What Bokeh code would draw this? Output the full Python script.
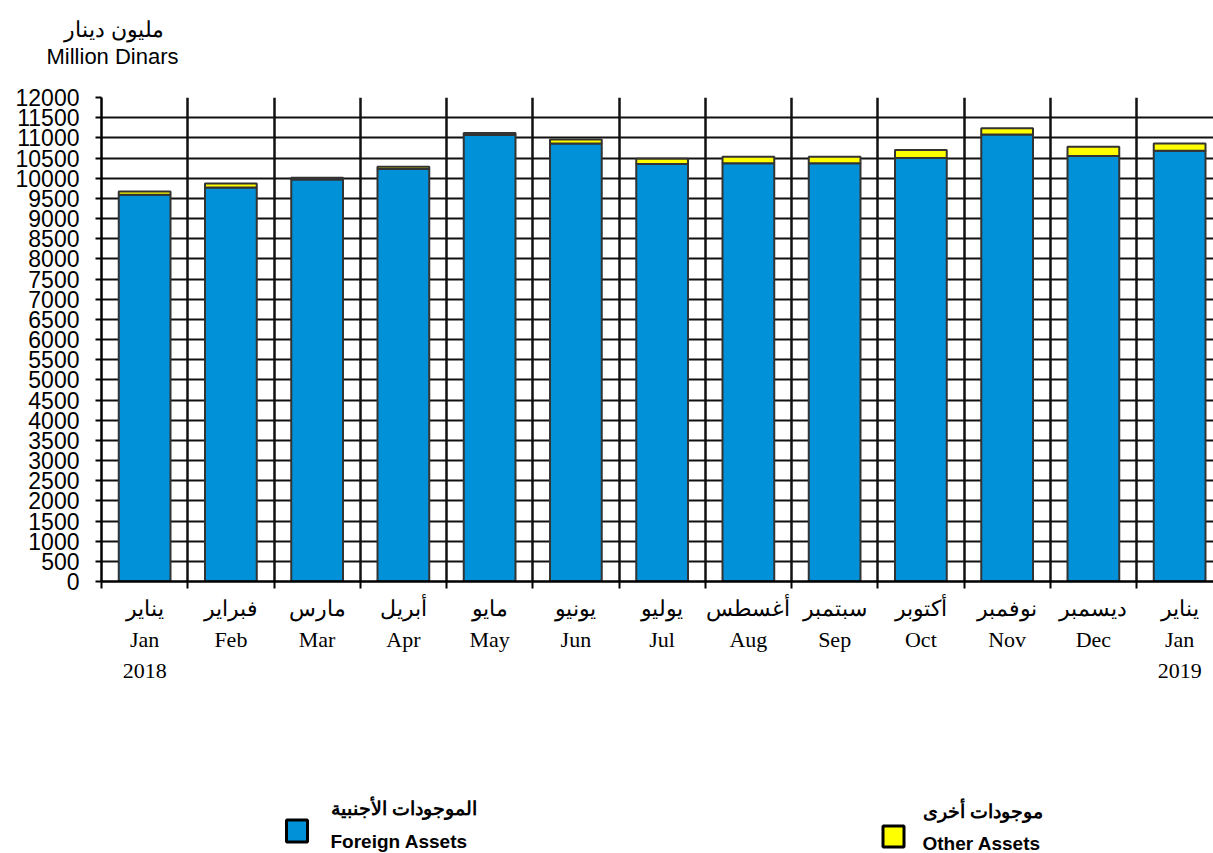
from bokeh.plotting import figure
from bokeh.models import ColumnDataSource, Range1d, FixedTicker, Title
from bokeh.layouts import column
from bokeh.core.properties import value
from bokeh.embed import file_html
from bokeh.resources import INLINE

months_ar = ["يناير", "فبراير", "مارس", "أبريل", "مايو", "يونيو", "يوليو",
             "أغسطس", "سبتمبر", "أكتوبر", "نوفمبر", "ديسمبر", "يناير"]
months_en = ["Jan", "Feb", "Mar", "Apr", "May", "Jun", "Jul", "Aug", "Sep",
             "Oct", "Nov", "Dec", "Jan"]
years = ["2018", "", "", "", "", "", "", "", "", "", "", "", "2019"]
foreign = [9590, 9770, 9970, 10230, 11070, 10860, 10350, 10370, 10370,
           10500, 11080, 10550, 10680]
other = [80, 100, 40, 50, 50, 100, 130, 160, 160, 200, 160, 230, 180]
y_ticks = list(range(0, 12001, 500))

BLUE = "#0091d9"
YELLOW = "#ffff00"
EDGE = "#333333"

# ---------- main chart ----------
n = len(months_en)
xs = [i + 0.5 for i in range(n)]
src = ColumnDataSource(dict(x=xs, foreign=foreign, other=other))

cat_px = 86.25
x_end = (1213 - 101) / cat_px
p = figure(width=1213, height=700, x_range=Range1d(0, x_end),
           y_range=Range1d(0, 12000),
           min_border_left=101, min_border_right=0, min_border_top=97,
           min_border_bottom=119, output_backend="svg", toolbar_location=None)
p.outline_line_color = None
p.background_fill_color = "white"

p.vbar_stack(["foreign", "other"], x="x", width=0.6, source=src,
             fill_color=[BLUE, YELLOW], line_color=EDGE, line_width=2)

# grids
p.xgrid.ticker = FixedTicker(ticks=list(range(n)))
p.xgrid.grid_line_color = "#111111"
p.xgrid.grid_line_width = 2.5
p.ygrid.ticker = FixedTicker(ticks=y_ticks)
p.ygrid.grid_line_color = "#111111"
p.ygrid.grid_line_width = 2

# x axis
labels = {}
for i in range(n):
    t = months_ar[i] + "\n" + months_en[i]
    if years[i]:
        t += "\n" + years[i]
    labels[xs[i]] = t
p.xaxis.ticker = FixedTicker(ticks=xs, minor_ticks=list(range(n + 1)))
p.xaxis.major_label_overrides = labels
p.xaxis.major_tick_in = 0
p.xaxis.major_tick_out = 0
p.xaxis.minor_tick_in = 0
p.xaxis.minor_tick_out = 7
p.xaxis.minor_tick_line_color = "#000000"
p.xaxis.minor_tick_line_width = 2
p.xaxis.axis_line_color = "#000000"
p.xaxis.axis_line_width = 2.5
p.xaxis.major_label_text_font = "Liberation Serif"
p.xaxis.major_label_text_font_size = "22px"
p.xaxis.major_label_text_color = "#000000"
p.xaxis.major_label_text_line_height = 1.24
p.xaxis.major_label_standoff = 7

# y axis
p.yaxis.ticker = FixedTicker(ticks=y_ticks)
p.yaxis.major_label_overrides = {v: str(v) for v in y_ticks}
p.yaxis.major_tick_in = 0
p.yaxis.major_tick_out = 6
p.yaxis.major_tick_line_width = 2
p.yaxis.major_tick_line_color = "#000000"
p.yaxis.minor_tick_line_color = None
p.yaxis.axis_line_color = "#000000"
p.yaxis.axis_line_width = 2.5
p.yaxis.major_label_text_font = "Liberation Sans"
p.yaxis.major_label_text_font_size = "23px"
p.yaxis.major_label_text_color = "#000000"
p.yaxis.major_label_standoff = 16

# unit header as titles above the frame (first added = nearest the frame)
p.add_layout(Title(text=" ", text_font_size="1px", standoff=26), "above")
p.add_layout(Title(text="Million Dinars", align="left", offset=-55,
                   text_font="Liberation Sans", text_font_size="22px",
                   text_font_style="normal", text_color="#000000",
                   standoff=0), "above")
p.add_layout(Title(text="مليون دينار", align="left", offset=-38,
                   text_font="Liberation Sans", text_font_size="22px",
                   text_font_style="normal", text_color="#000000",
                   standoff=0), "above")

# ---------- legend ----------
leg = figure(width=1213, height=153, x_range=Range1d(101, 1213),
             y_range=Range1d(853, 700), x_axis_type=None, y_axis_type=None,
             min_border=0, output_backend="svg", toolbar_location=None)
leg.grid.visible = False
leg.outline_line_color = None
leg.rect(x=[296.5], y=[830.5], width=21, height=22, fill_color=BLUE,
         line_color="#000000", line_width=3)
leg.rect(x=[893], y=[836], width=21, height=21, fill_color=YELLOW,
         line_color="#000000", line_width=3)
leg.text(x=[330, 922], y=[808, 811], text=["الموجودات الأجنبية", "موجودات أخرى"],
         text_font=value("Liberation Sans"), text_font_size="19px",
         text_font_style="bold", text_align="left", text_baseline="middle",
         text_color="#000000")
leg.text(x=[330, 922], y=[841, 843], text=["Foreign Assets", "Other Assets"],
         text_font=value("Liberation Sans"), text_font_size="19px",
         text_font_style="bold", text_align="left", text_baseline="middle",
         text_color="#000000")

layout = column(p, leg, spacing=0)
open("out.html", "w").write(file_html(layout, INLINE))
